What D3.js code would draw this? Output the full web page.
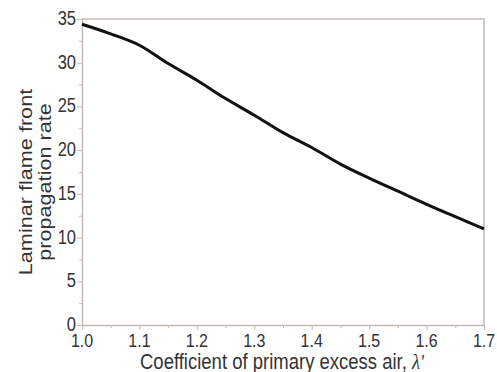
<!DOCTYPE html>
<html>
<head>
<meta charset="utf-8">
<script src="https://cdn.jsdelivr.net/npm/d3@7/dist/d3.min.js"></script>
<style>
  html, body { margin: 0; padding: 0; background: #fff; }
  svg { display: block; }
  text { font-family: "Liberation Sans", Arial, sans-serif; fill: #333; }
</style>
</head>
<body>
<svg id="chart" width="497" height="372"></svg>
<script>
// Excess air coefficient vs. laminar flame front propagation rate
const lambdaValues = [1.0, 1.05, 1.1, 1.15, 1.2, 1.25, 1.3, 1.35, 1.4, 1.45, 1.5, 1.55, 1.6, 1.65, 1.7];
const rateValues   = [34.4, 33.3, 32.0, 29.9, 28.0, 25.9, 24.0, 22.0, 20.3, 18.4, 16.8, 15.3, 13.8, 12.4, 11.0];
const xTickValues = [1.0, 1.1, 1.2, 1.3, 1.4, 1.5, 1.6, 1.7];
const yTickValues = [0, 5, 10, 15, 20, 25, 30, 35];

const svg = d3.select("#chart");
const margin = { left: 82, top: 19, right: 13, bottom: 47 };
const W = 497, H = 372;
const x = d3.scaleLinear().domain([1.0, 1.7]).range([margin.left, W - margin.right]);
const y = d3.scaleLinear().domain([0, 35]).range([H - margin.bottom, margin.top]);

const axisColor = "#c4bcb4";
const stretch = 1.17; // glyphs are drawn slightly taller than wide

// frame (top and right edges)
svg.append("path")
  .attr("d", `M${x(1.0)},${y(35)}H${x(1.7)}V${y(0)}`)
  .attr("fill", "none").attr("stroke", axisColor).attr("stroke-width", 1.5);

// minor ticks
const xMinor = d3.range(1.05, 1.7, 0.1);
const yMinor = d3.range(2.5, 35, 5);
svg.append("g").attr("transform", `translate(0,${y(0)})`)
  .call(d3.axisBottom(x).tickValues(xMinor).tickSize(3).tickFormat(""))
  .call(g => g.select(".domain").remove())
  .call(g => g.selectAll("line").attr("stroke", axisColor));
svg.append("g").attr("transform", `translate(${x(1.0)},0)`)
  .call(d3.axisLeft(y).tickValues(yMinor).tickSize(3).tickFormat(""))
  .call(g => g.select(".domain").remove())
  .call(g => g.selectAll("line").attr("stroke", axisColor));

// major axes (lines from d3 axes, labels placed with the same scales)
const xAxis = svg.append("g").attr("transform", `translate(0,${y(0)})`)
  .call(d3.axisBottom(x).tickValues(xTickValues).tickSize(5).tickSizeOuter(0).tickFormat(""));
const yAxis = svg.append("g").attr("transform", `translate(${x(1.0)},0)`)
  .call(d3.axisLeft(y).tickValues(yTickValues).tickSize(5).tickSizeOuter(0).tickFormat(""));
[xAxis, yAxis].forEach(a => {
  a.select(".domain").attr("stroke", axisColor).attr("stroke-width", 1.5);
  a.selectAll("line").attr("stroke", axisColor);
});

const fmtX = d3.format(".1f");
svg.append("g").selectAll("text").data(xTickValues).join("text")
  .attr("transform", d => `translate(${x(d)},${y(0) + 22}) scale(1,${stretch})`)
  .attr("text-anchor", "middle").attr("font-size", 16)
  .text(d => fmtX(d));
svg.append("g").selectAll("text").data(yTickValues).join("text")
  .attr("transform", d => `translate(${x(1.0) - 6},${y(d) + 6}) scale(1,${stretch})`)
  .attr("text-anchor", "end").attr("font-size", 16.5)
  .text(d => d);

// curve
svg.append("path")
  .datum(lambdaValues.map((v, i) => [v, rateValues[i]]))
  .attr("fill", "none").attr("stroke", "#111").attr("stroke-width", 3)
  .attr("stroke-linejoin", "round")
  .attr("d", d3.line().x(d => x(d[0])).y(d => y(d[1])).curve(d3.curveMonotoneX));

// axis titles
const xt = svg.append("text")
  .attr("transform", `translate(282,369) scale(1,${stretch})`)
  .attr("text-anchor", "middle").attr("font-size", 18.5);
xt.append("tspan").text("Coefficient of primary excess air, ");
xt.append("tspan").attr("font-family", "'Liberation Serif', serif").attr("font-style", "italic").text("λ'");

const yt = svg.append("text")
  .attr("transform", `translate(32,182) rotate(-90) scale(${stretch},1)`)
  .attr("text-anchor", "middle").attr("font-size", 18.5);
yt.append("tspan").attr("x", 0).attr("dy", 0).text("Laminar flame front");
yt.append("tspan").attr("x", 0).attr("dy", 19).text("propagation rate");
</script>
</body>
</html>
